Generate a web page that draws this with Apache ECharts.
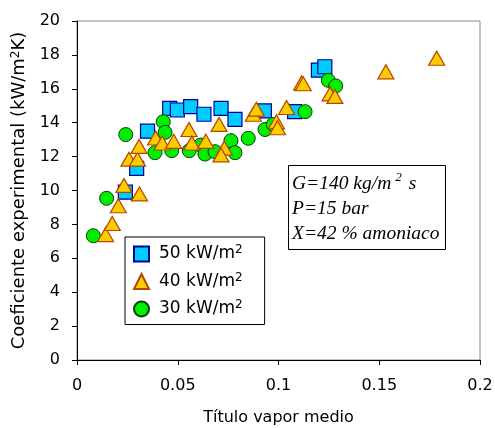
<!DOCTYPE html>
<html>
<head>
<meta charset="utf-8">
<script src="https://cdn.jsdelivr.net/npm/echarts@6/dist/echarts.min.js"></script>
<style>
  html, body { margin: 0; padding: 0; background: #fff; }
  #chart { width: 495px; height: 428px; }
</style>
</head>
<body>
<div id="chart"></div>
<script>
// Heat transfer coefficient vs. mean vapour quality, by heat flux
const flux50 = [
  [0.024, 9.9], [0.0296, 11.3], [0.035, 13.5], [0.046, 14.85], [0.0498, 14.75],
  [0.0564, 14.95], [0.063, 14.5], [0.0715, 14.85], [0.0784, 14.2], [0.093, 14.7],
  [0.108, 14.65], [0.1198, 17.1], [0.123, 17.3]
];
const flux40 = [
  [0.0142, 7.4], [0.0175, 8.05], [0.0205, 9.1], [0.0233, 10.3], [0.031, 9.8],
  [0.0258, 11.85], [0.030, 11.85], [0.0308, 12.6], [0.039, 13.1], [0.0423, 12.8],
  [0.048, 12.9], [0.0556, 13.6], [0.057, 12.8], [0.0639, 12.9], [0.0705, 13.9],
  [0.0731, 12.5], [0.0715, 12.1], [0.0875, 14.5], [0.089, 14.8], [0.099, 14.05],
  [0.0995, 13.7], [0.104, 14.9], [0.1115, 16.35], [0.1123, 16.3], [0.1256, 15.7],
  [0.128, 15.55], [0.1533, 17.0], [0.1785, 17.8]
];
const flux30 = [
  [0.0081, 7.33], [0.0147, 9.54], [0.0242, 13.3], [0.0387, 12.23], [0.0428, 14.06],
  [0.0437, 13.43], [0.047, 12.35], [0.0557, 12.35], [0.0614, 12.68], [0.0635, 12.15],
  [0.0685, 12.29], [0.0764, 12.94], [0.0784, 12.23], [0.085, 13.08], [0.0933, 13.6],
  [0.0974, 13.9], [0.1132, 14.65], [0.1247, 16.5], [0.1284, 16.17]
];
const seriesNames = ['50 kW/m2', '40 kW/m2', '30 kW/m2'];
const xTicks = [0, 0.05, 0.1, 0.15, 0.2];
const yTicks = [0, 2, 4, 6, 8, 10, 12, 14, 16, 18, 20];

const sansFont = '"DejaVu Sans", Verdana, sans-serif';
const serifFont = '"Liberation Serif", "Times New Roman", serif';

const chart = echarts.init(document.getElementById('chart'), null, { renderer: 'canvas' });

function legendLabel(name) {
  return '{t|' + name.replace('m2', 'm') + '}{s|2}';
}

chart.setOption({
  animation: false,
  backgroundColor: '#fff',
  grid: {
    left: 77, right: 15, top: 21, bottom: 68,
    containLabel: false, outerBoundsMode: 'none',
    show: true, borderColor: '#8c8c8c', borderWidth: 1, backgroundColor: 'transparent'
  },
  xAxis: {
    type: 'value',
    min: xTicks[0], max: xTicks[xTicks.length - 1], interval: 0.05,
    name: 'Título vapor medio',
    nameLocation: 'middle', nameGap: 50,
    nameTextStyle: { fontFamily: sansFont, fontSize: 16, color: '#000' },
    axisLine: { show: true, onZero: false, lineStyle: { color: '#000', width: 1 } },
    axisTick: { show: true, inside: false, length: 5, lineStyle: { color: '#000' } },
    axisLabel: { fontFamily: sansFont, fontSize: 16, color: '#000', margin: 18,
      formatter: v => String(v) },
    splitLine: { show: false }
  },
  yAxis: {
    type: 'value',
    min: yTicks[0], max: yTicks[yTicks.length - 1], interval: 2,
    name: '{t|Coeficiente experimental (kW/m}{s|2}{t|K)}',
    nameLocation: 'middle', nameGap: 44,
    nameTextStyle: {
      fontFamily: sansFont, fontSize: 18, color: '#000',
      rich: {
        t: { fontFamily: sansFont, fontSize: 18, color: '#000', lineHeight: 20 },
        s: { fontFamily: sansFont, fontSize: 12, color: '#000', verticalAlign: 'top', lineHeight: 20 }
      }
    },
    axisLine: { show: true, onZero: false, lineStyle: { color: '#000', width: 1 } },
    axisTick: { show: true, inside: false, length: 5, lineStyle: { color: '#000' } },
    axisLabel: { fontFamily: sansFont, fontSize: 16, color: '#000', margin: 17 },
    splitLine: { show: false }
  },
  legend: {
    orient: 'vertical',
    left: 125, top: 237,
    data: seriesNames,
    backgroundColor: '#fff',
    borderColor: '#000', borderWidth: 1,
    padding: [7, 22, 7, 8],
    itemWidth: 15, itemHeight: 15, itemGap: 9,
    formatter: legendLabel,
    textStyle: {
      fontFamily: sansFont, fontSize: 17, color: '#000', padding: [0, 0, 0, 5],
      rich: {
        t: { fontFamily: sansFont, fontSize: 17, color: '#000', lineHeight: 20 },
        s: { fontFamily: sansFont, fontSize: 12, color: '#000', verticalAlign: 'top', lineHeight: 20 }
      }
    }
  },
  graphic: [
    {
      type: 'rect', left: 288, top: 165, z: 10,
      shape: { width: 157, height: 84 },
      style: { fill: '#fff', stroke: '#000', lineWidth: 1 }
    },
    {
      type: 'text', left: 292, top: 171, z: 11,
      style: {
        text: '{t|G=140 kg/m}{s|2}{t| s}\n{t|P=15 bar}\n{t|X=42 % amoniaco}',
        rich: {
          t: { fontFamily: serifFont, fontStyle: 'italic', fontSize: 19.5, fill: '#000', lineHeight: 25 },
          s: { fontFamily: serifFont, fontStyle: 'italic', fontSize: 13, fill: '#000', verticalAlign: 'top', lineHeight: 25, padding: [0, 2, 0, 4] }
        }
      }
    }
  ],
  series: [
    {
      name: seriesNames[0], type: 'scatter', data: flux50, z: 2,
      symbol: 'rect', symbolSize: 14,
      itemStyle: { color: '#00ccff', borderColor: '#000099', borderWidth: 1.2, opacity: 1 }
    },
    {
      name: seriesNames[2], type: 'scatter', data: flux30, z: 3,
      symbol: 'circle', symbolSize: 14,
      itemStyle: { color: '#00ee00', borderColor: '#004400', borderWidth: 1, opacity: 1 }
    },
    {
      name: seriesNames[1], type: 'scatter', data: flux40, z: 4,
      symbol: 'triangle', symbolSize: [16, 14],
      itemStyle: { color: '#ffcc00', borderColor: '#b34700', borderWidth: 1.2, opacity: 1 }
    }
  ]
});
</script>
</body>
</html>
